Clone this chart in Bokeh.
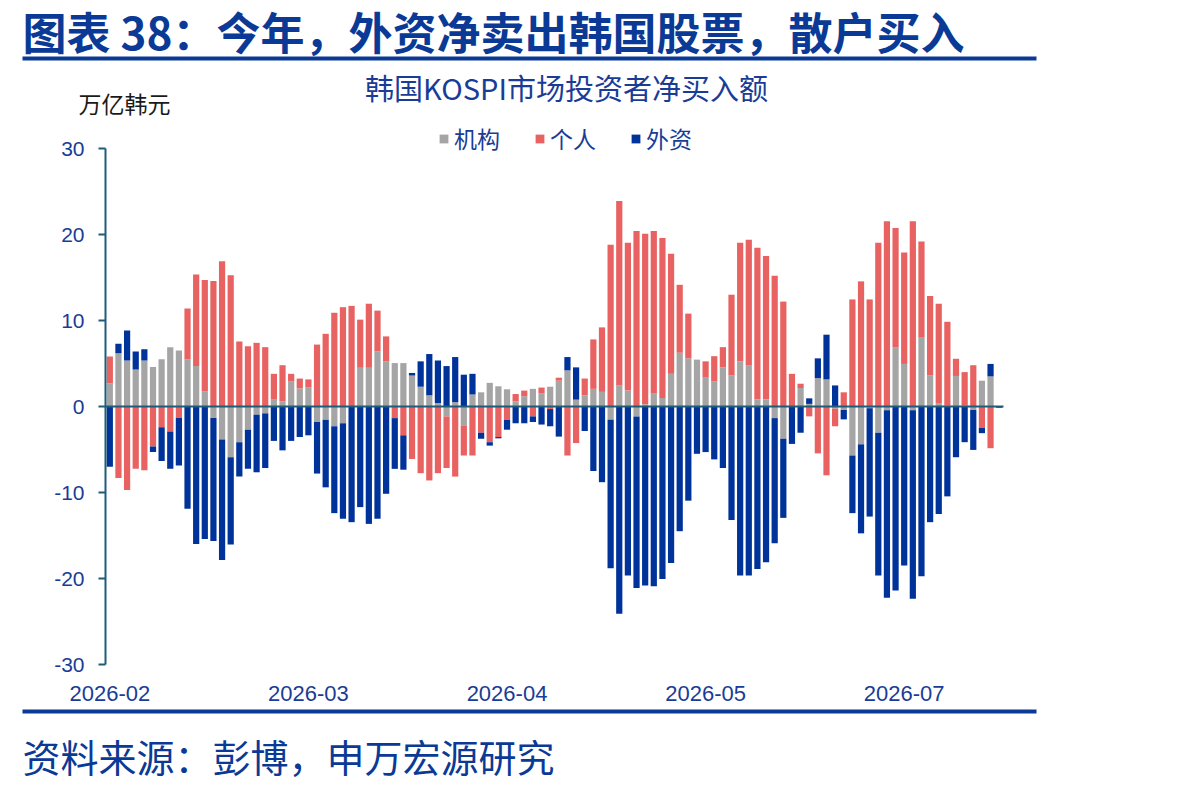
import numpy as np
from bokeh.plotting import figure
from bokeh.models import (ColumnDataSource, Range1d, FixedTicker, Label, LinearAxis,
                          BoxAnnotation, Legend, LegendItem)
from bokeh.embed import file_html
from bokeh.resources import INLINE

# Net purchases on KOSPI, trillion KRW, by investor type
inst = [2.7, 6.2, 5.35, 4.3, 5.35, 4.6, 5.5, 6.9, 6.5, 5.5,
        4.7, 1.75, -1.35, -3.85, -5.9, -4.15, -2.7, -0.95, -0.8, 0.8,
        0.6, 2.9, 2.1, 2.25, -1.8, -1.55, -2.3, -1.95, 0.0, 4.5,
        4.5, 6.4, 5.25, 5.05, 5.05, 3.6, 2.3, 1.3, 0.4, -1.15,
        0.5, -2.2, 1.4, 1.65, 2.75, 2.35, 2.0, 0.6, 1.2, 2.05,
        1.55, 2.3, 3.0, 4.2, 0.8, 1.3, 2.05, 1.7, -1.55, 2.45,
        1.85, -1.15, 0.25, 1.55, 1.0, 3.8, 6.25, 5.6, 5.45, 3.35,
        2.9, 4.55, 3.6, 5.25, 4.75, 0.8, 0.8, -1.35, -3.75, 0.0,
        2.15, 0.3, 3.3, 3.15, -0.25, -0.4, -5.7, -4.4, -0.2, -3.05,
        -0.45, 6.85, 4.95, -0.45, 8.0, 3.6, 0.4, 0.1, 3.55, 0.1,
        -0.4, 3.0, 3.5, 0.0]
indiv = [3.1, -8.3, -9.7, -7.25, -7.4, -4.65, -2.4, -2.9, -1.35, 5.9,
         10.65, 12.95, 14.6, 16.9, 15.25, 7.55, 7.0, 7.4, 6.9, 3.0,
         4.2, 0.9, 1.15, 0.9, 7.2, 8.45, 10.9, 11.55, 11.7, 5.6,
         7.45, 4.75, 2.9, -1.35, -3.35, -6.1, -7.75, -8.6, -7.75, -6.0,
         -8.15, -3.5, -5.7, -3.05, -4.15, -3.55, -1.55, 0.85, 0.65, -1.15,
         0.65, -0.3, 0.35, -5.7, -4.25, 1.95, 5.75, 7.5, 18.8, 21.45,
         17.2, 20.4, 19.85, 18.85, 18.6, 13.95, 7.9, 5.2, 0.0, 1.9,
         2.95, 2.35, 9.4, 13.8, 14.65, 17.65, 16.7, 15.2, 12.2, 3.8,
         0.5, -1.15, -5.45, -8.0, -2.05, 1.65, 12.45, 14.55, 12.45, 19.05,
         21.55, 13.9, 12.95, 21.55, 11.2, 9.25, 11.55, 9.75, 2.0, 3.9,
         4.8, -2.5, -4.85, 0.0]
foreign = [-7.0, 1.1, 3.5, 2.1, 1.3, -0.65, -3.95, -4.35, -5.5, -11.9,
           -16.0, -15.4, -14.3, -14.0, -10.15, -4.0, -4.55, -6.7, -6.35, -4.0,
           -5.1, -4.0, -3.55, -3.35, -6.0, -7.85, -10.1, -11.1, -13.45, -11.7,
           -13.65, -13.05, -10.15, -5.9, -4.0, 0.3, 2.95, 4.8, 4.95, 4.7,
           5.25, 3.7, 2.4, -0.7, -0.4, -0.15, -1.15, -1.95, -1.95, -0.65,
           -2.1, -2.0, -3.5, 1.55, 3.75, -2.85, -7.5, -8.8, -17.25, -24.1,
           -19.65, -19.95, -20.8, -20.9, -20.05, -18.2, -14.5, -10.95, -5.5, -5.3,
           -6.15, -7.15, -13.2, -19.65, -19.65, -18.9, -18.1, -14.55, -9.2, -4.35,
           -3.05, 0.65, 2.3, 5.2, 2.45, -1.1, -6.7, -10.35, -12.6, -16.6,
           -21.8, -21.4, -18.5, -21.9, -19.75, -13.45, -12.5, -10.45, -5.9, -4.15,
           -4.65, -0.6, 1.45, -0.15]

series_names = ["机构", "个人", "外资"]
series_values = [inst, indiv, foreign]
series_colors = ["#A5A5A5", "#E96262", "#00339A"]

tick_pos = [0, 23, 46, 69, 92]
tick_labels = ["2026-02", "2026-03", "2026-04", "2026-05", "2026-07"]
y_ticks = [-30, -20, -10, 0, 10, 20, 30]
y_min, y_max = -30, 30

W, H = 1190, 787
FL, FR, FT, FB = 105, 1003, 148, 664   # plot area edges on the page (px)

CJK = "Noto Sans CJK SC"
LAT = "Liberation Sans"
DARK_BLUE = "#0B3A96"
TEXT_BLUE = "#1A3C96"
AXIS_TEAL = "#1F5C7A"

n = len(inst)
# the canvas is one big frame; ranges are extended so the plot area lands on FL..FR / FT..FB
x_lo, x_hi = -0.5, n - 0.5
xppu = (FR - FL) / (x_hi - x_lo)
yppu = (FB - FT) / (y_max - y_min)
x_range = Range1d(x_lo - FL / xppu, x_hi + (W - FR) / xppu)
y_range = Range1d(y_min - (H - FB) / yppu, y_max + FT / yppu)

p = figure(width=W, height=H, x_range=x_range, y_range=y_range,
           output_backend="svg", toolbar_location=None, min_border=0)
p.min_border_left = p.min_border_right = p.min_border_top = p.min_border_bottom = 0
p.outline_line_color = None
p.grid.visible = False
p.background_fill_color = "white"
p.border_fill_color = "white"

# stacked columns: positives stack upward, negatives downward
x = np.arange(n)
pos = np.zeros(n)
neg = np.zeros(n)
renderers = []
for name, vals, color in zip(series_names, series_values, series_colors):
    v = np.array(vals, dtype=float)
    bottom = np.where(v >= 0, pos, neg)
    top = bottom + v
    pos = np.where(v >= 0, top, pos)
    neg = np.where(v < 0, top, neg)
    src = ColumnDataSource(dict(x=x, bottom=bottom, top=top))
    r = p.vbar(x="x", bottom="bottom", top="top", width=0.72, source=src,
               fill_color=color, line_color=None)
    renderers.append(r)

# x axis: month labels under the plot area
xa = p.xaxis[0]
xa.fixed_location = y_min
xa.bounds = (x_lo, x_hi)
xa.ticker = FixedTicker(ticks=tick_pos)
xa.major_label_overrides = {t: s for t, s in zip(tick_pos, tick_labels)}
xa.axis_line_color = None
xa.major_tick_line_color = None
xa.minor_tick_line_color = None
xa.major_label_standoff = 15
xa.major_label_text_font = LAT
xa.major_label_text_font_size = "22px"
xa.major_label_text_color = TEXT_BLUE

# zero line drawn as a second x axis crossing at 0
zero_axis = LinearAxis(fixed_location=0, bounds=(x_lo, x_hi), ticker=FixedTicker(ticks=[]),
                       axis_line_color=AXIS_TEAL, axis_line_width=2,
                       major_tick_line_color=None, minor_tick_line_color=None,
                       major_label_text_alpha=0)
p.add_layout(zero_axis, "below")

# y axis
ya = p.yaxis[0]
ya.fixed_location = x_lo
ya.bounds = (y_min, y_max)
ya.ticker = FixedTicker(ticks=y_ticks)
ya.major_label_overrides = {t: str(t) for t in y_ticks}
ya.axis_line_color = AXIS_TEAL
ya.axis_line_width = 2
ya.major_tick_line_color = AXIS_TEAL
ya.major_tick_line_width = 2
ya.major_tick_in = 0
ya.major_tick_out = 7
ya.minor_tick_line_color = None
ya.major_label_standoff = 14
ya.major_label_text_font = LAT
ya.major_label_text_font_size = "21px"
ya.major_label_text_color = TEXT_BLUE

# legend
legend = Legend(items=[LegendItem(label=nm, renderers=[r]) for nm, r in zip(series_names, renderers)],
                orientation="horizontal", location=(438, H - 155),
                glyph_width=11, glyph_height=11, label_standoff=5, spacing=34,
                padding=0, margin=0, border_line_alpha=0, background_fill_alpha=0,
                label_text_font=CJK, label_text_font_size="23px",
                label_text_color=TEXT_BLUE)
p.add_layout(legend)


def sy(cy):
    return H - cy


p.add_layout(Label(x=22, y=sy(30), x_units="screen", y_units="screen",
                   text="图表 38：今年，外资净卖出韩国股票，散户买入",
                   text_font=CJK, text_font_size="44px", text_font_style="bold",
                   text_color=DARK_BLUE, text_align="left", text_baseline="middle"))
p.add_layout(Label(x=566, y=sy(86), x_units="screen", y_units="screen",
                   text="韩国KOSPI市场投资者净买入额",
                   text_font=CJK, text_font_size="29px",
                   text_color=TEXT_BLUE, text_align="center", text_baseline="middle"))
p.add_layout(Label(x=78, y=sy(102), x_units="screen", y_units="screen",
                   text="万亿韩元",
                   text_font=CJK, text_font_size="23px",
                   text_color="#1A1A1A", text_align="left", text_baseline="middle"))
p.add_layout(Label(x=22, y=sy(755), x_units="screen", y_units="screen",
                   text="资料来源：彭博，申万宏源研究",
                   text_font=CJK, text_font_size="38px",
                   text_color=DARK_BLUE, text_align="left", text_baseline="middle"))

# rules under the title and above the source line
for top_y in (56, 709):
    p.add_layout(BoxAnnotation(left=22, right=1036, top=sy(top_y), bottom=sy(top_y + 4),
                               left_units="screen", right_units="screen",
                               top_units="screen", bottom_units="screen",
                               fill_color=DARK_BLUE, fill_alpha=1.0, line_color=None))

open("out.html", "w").write(file_html(p, INLINE))
